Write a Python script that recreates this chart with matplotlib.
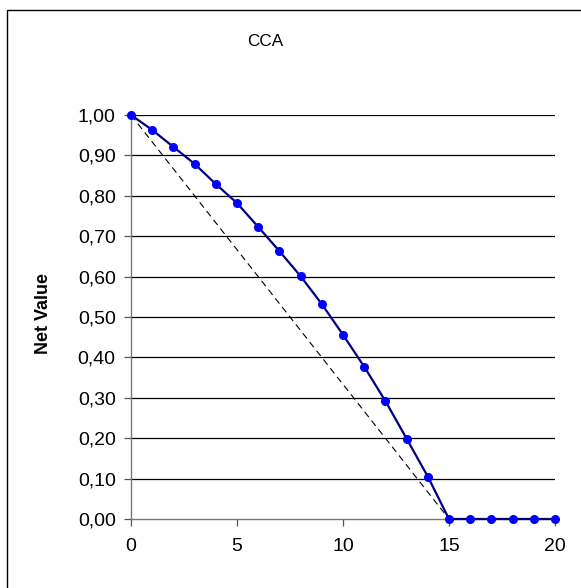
import matplotlib.pyplot as plt
from matplotlib.patches import Rectangle
from matplotlib.ticker import FuncFormatter

plt.rcParams['font.family'] = ['Liberation Sans', 'DejaVu Sans']

# net value per year
years = list(range(0, 21))
net_value = [1.00, 0.963, 0.921, 0.879, 0.829, 0.782, 0.723, 0.663, 0.601, 0.532,
             0.456, 0.377, 0.292, 0.199, 0.105, 0.0, 0.0, 0.0, 0.0, 0.0, 0.0]
# straight-line reference
ref_years = [0, 15]
ref_value = [1.0, 0.0]

y_ticks = [i / 10 for i in range(11)]
x_ticks = [0, 5, 10, 15, 20]

W, H = 581, 588
fig = plt.figure(figsize=(W / 100, H / 100), dpi=100)
fig.patch.set_facecolor('white')

# outer frame
fig.patches.append(Rectangle((7 / W, -0.05), 1.1, 1 - 10 / H + 0.05,
                             transform=fig.transFigure, fill=False,
                             edgecolor='black', linewidth=1.0))

ax = fig.add_axes([131 / W, 69 / H, 424 / W, 404 / H])
ax.set_xlim(0, 20)
ax.set_ylim(0, 1)

for yv in y_ticks[1:]:
    ax.axhline(yv, color='black', linewidth=0.9, zorder=1)

ax.plot(ref_years, ref_value, color='black', linewidth=0.8,
        dashes=(6, 4), zorder=2)
ax.plot(years, net_value, color='#000080', linewidth=1.6, marker='o',
        markersize=5.5, markerfacecolor='#0000FF', markeredgecolor='#0000FF',
        clip_on=False, zorder=3)

ax.set_xticks(x_ticks)
ax.set_yticks(y_ticks)
ax.yaxis.set_major_formatter(FuncFormatter(lambda v, p: f"{v:.2f}".replace('.', ',')))
ax.tick_params(direction='out', length=5, width=0.9, color='#555555',
               labelsize=14)
ax.tick_params(axis='y', pad=6)
ax.tick_params(axis='x', pad=9)
for s in ['top', 'right']:
    ax.spines[s].set_visible(False)
for s in ['left', 'bottom']:
    ax.spines[s].set_color('#777777')
    ax.spines[s].set_linewidth(1.0)

fig.text(265 / W, 1 - 42 / H, 'CCA', ha='center', va='center', fontsize=12.3)
fig.text(43 / W, 1 - 314 / H, 'Net Value', ha='center', va='center',
         rotation=90, fontsize=13, fontweight='bold')

fig.savefig('out.png', dpi=100)
